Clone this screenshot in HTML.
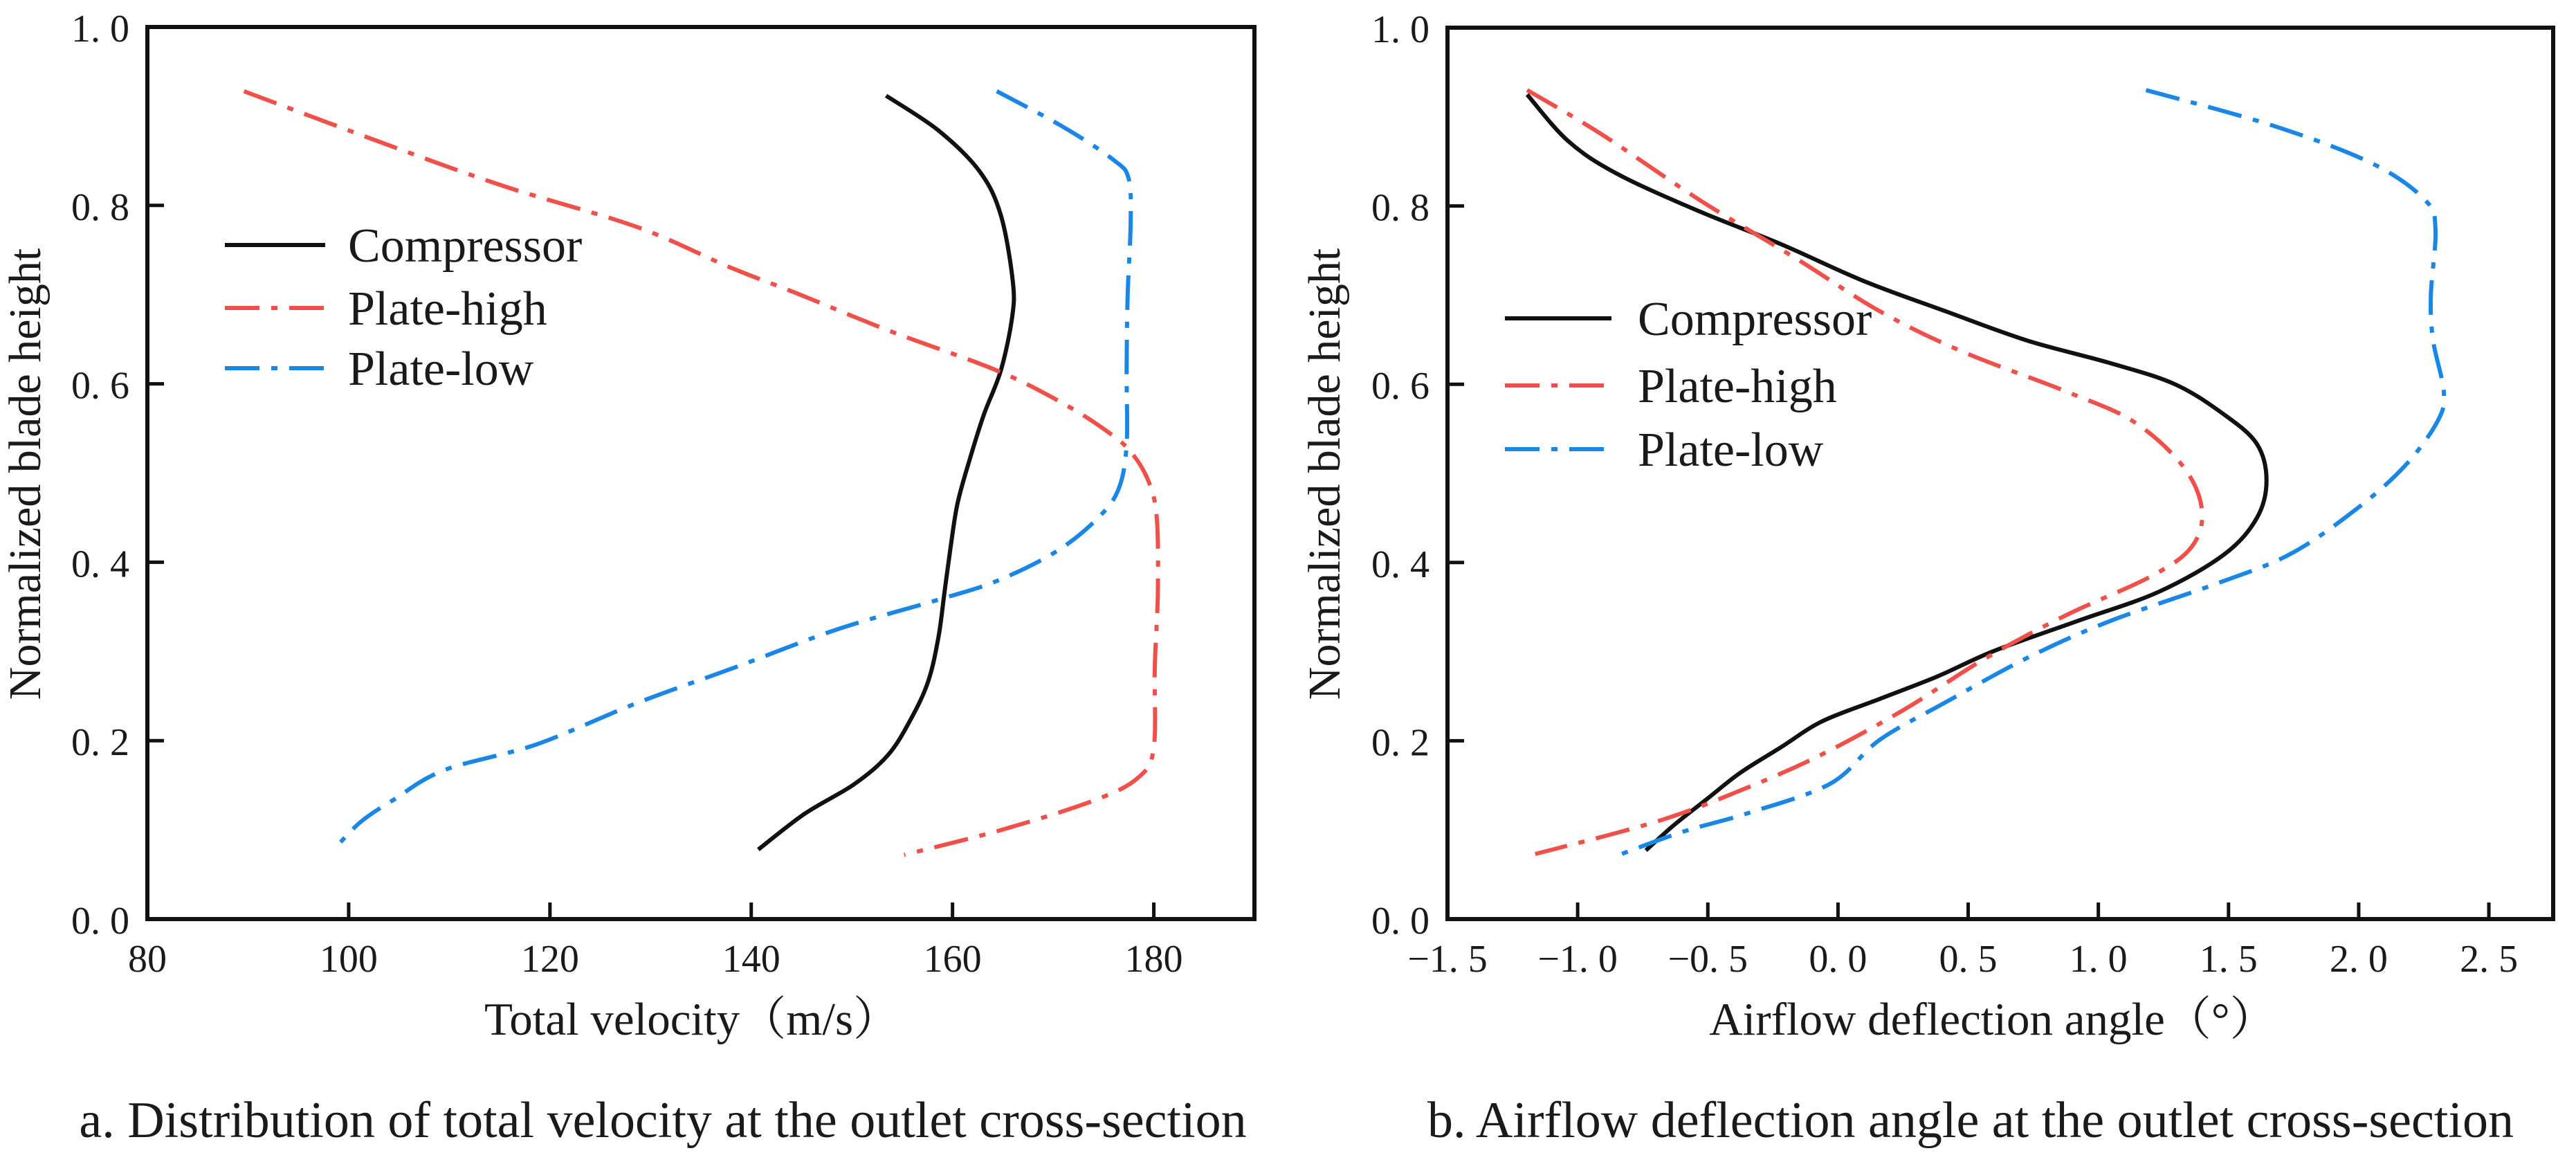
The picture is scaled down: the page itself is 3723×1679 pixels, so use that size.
<!DOCTYPE html>
<html><head><meta charset="utf-8"><style>
html,body{margin:0;padding:0;background:#fff;}
svg{display:block;}
text{font-family:"Liberation Serif","Noto Serif CJK SC",serif;fill:#1a1a1a;}
</style></head><body>
<svg id="fig" width="3723" height="1679" viewBox="0 0 3723 1679" xmlns="http://www.w3.org/2000/svg"></svg>
<script>
// ---- Panel a data (x: total velocity, y: normalized blade height) ----
const aCompX=[153.4,158.6,162.7,164.8,166,165.9,164.8,163.1,161.7,160.5,159.8,159.2,158.6,157.6,155.9,153.6,150.2,145.3,140.7];
const aCompY=[0.923,0.884,0.838,0.789,0.714,0.673,0.615,0.565,0.515,0.466,0.416,0.366,0.316,0.267,0.225,0.184,0.151,0.118,0.078];
const aHighX=[89.6,102.9,115.3,128.6,137.8,144.4,153.6,164.4,171,175.2,177.7,179.5,180.3,180.4,180.1,180,178.5,174.3,165.2,155.2];
const aHighY=[0.928,0.872,0.822,0.776,0.731,0.702,0.66,0.615,0.578,0.548,0.524,0.49,0.449,0.366,0.283,0.192,0.159,0.134,0.101,0.072];
const aLowX=[164.4,171,176,177.5,177.7,177.4,177.3,177.3,176.5,174.4,170.3,164.4,158.6,148.6,138.6,128.6,118.7,109.5,104.5,101.2,98.7];
const aLowY=[0.928,0.888,0.851,0.83,0.78,0.698,0.615,0.532,0.482,0.449,0.412,0.379,0.358,0.325,0.283,0.242,0.196,0.167,0.134,0.109,0.08];
const aXTicks=[80,100,120,140,160,180];
const aXTickLabels=["80","100","120","140","160","180"];
// ---- Panel b data (x: airflow deflection angle) ----
const bCompX=[-1.194,-1.037,-0.848,-0.533,-0.218,0.097,0.412,0.727,1.042,1.294,1.483,1.609,1.646,1.609,1.483,1.231,0.916,0.601,0.38,0.16,-0.06,-0.218,-0.376,-0.502,-0.628,-0.738];
const bCompY=[0.925,0.873,0.836,0.794,0.757,0.716,0.682,0.649,0.624,0.6,0.566,0.533,0.492,0.45,0.409,0.367,0.334,0.301,0.272,0.247,0.222,0.193,0.164,0.135,0.106,0.077];
const bHighX=[-1.194,-0.911,-0.533,-0.155,0.16,0.475,0.884,1.136,1.325,1.398,1.357,1.199,0.884,0.569,0.254,-0.06,-0.344,-0.69,-1.163];
const bHighY=[0.93,0.881,0.807,0.74,0.682,0.637,0.591,0.558,0.508,0.459,0.417,0.384,0.342,0.293,0.235,0.185,0.148,0.11,0.073];
const bLowX=[1.183,1.672,2.05,2.254,2.295,2.277,2.286,2.327,2.302,2.176,1.987,1.734,1.451,1.042,0.727,0.412,0.16,-0.029,-0.344,-0.596,-0.832];
const bLowY=[0.93,0.89,0.848,0.807,0.774,0.699,0.649,0.591,0.558,0.508,0.459,0.409,0.376,0.334,0.293,0.243,0.201,0.152,0.119,0.098,0.073];
const bXTicks=[-1.5,-1.0,-0.5,0.0,0.5,1.0,1.5,2.0,2.5];
const bXTickLabels=["−1. 5","−1. 0","−0. 5","0. 0","0. 5","1. 0","1. 5","2. 0","2. 5"];
const yTicks=[0,0.2,0.4,0.6,0.8,1.0];
const yTickLabels=["0. 0","0. 2","0. 4","0. 6","0. 8","1. 0"];
const seriesNames=["Compressor","Plate-high","Plate-low"];

const NS="http://www.w3.org/2000/svg";
const svg=document.getElementById('fig');
function mk(tag,attrs,parent){const e=document.createElementNS(NS,tag);for(const k in attrs)e.setAttribute(k,attrs[k]);(parent||svg).appendChild(e);return e;}
function smooth(pts){let d="M"+pts[0][0].toFixed(1)+","+pts[0][1].toFixed(1);
 for(let i=0;i<pts.length-1;i++){const p0=pts[Math.max(0,i-1)],p1=pts[i],p2=pts[i+1],p3=pts[Math.min(pts.length-1,i+2)];
  const c1=[p1[0]+(p2[0]-p0[0])/6,p1[1]+(p2[1]-p0[1])/6],c2=[p2[0]-(p3[0]-p1[0])/6,p2[1]-(p3[1]-p1[1])/6];
  d+=" C"+c1[0].toFixed(1)+","+c1[1].toFixed(1)+" "+c2[0].toFixed(1)+","+c2[1].toFixed(1)+" "+p2[0].toFixed(1)+","+p2[1].toFixed(1);}
 return d;}
const styles=[{c:"#111",dash:"none"},{c:"#f0504a",dash:"50 17 9 17"},{c:"#1a86e6",dash:"50 17 9 17"}];

function panel(cfg){
 const g=mk('g',{});
 
 
 const sx=v=>cfg.x0+(v-cfg.xmin)/(cfg.xmax-cfg.xmin)*(cfg.x1-cfg.x0);
 const sy=v=>cfg.y1-(v-0)/(1-0)*(cfg.y1-cfg.y0);
 cfg.series.forEach((s,i)=>{
  const pts=s.x.map((v,j)=>[sx(v),sy(s.y[j])]);
  const p=mk('path',{d:smooth(pts),fill:"none",stroke:styles[i].c,"stroke-width":6,"stroke-dasharray":styles[i].dash,"stroke-linecap":"butt","stroke-linejoin":"round"},g);
  
  
 });
 const f=mk('rect',{x:cfg.x0,y:cfg.y0,width:cfg.x1-cfg.x0,height:cfg.y1-cfg.y0,fill:"none",stroke:"#111","stroke-width":6},g);
 
 
 cfg.xt.forEach((v,i)=>{
  const x=sx(v);
  if(Math.abs(x-cfg.x0)>3){const t=mk('line',{x1:x,x2:x,y1:cfg.y1,y2:cfg.y1-24,stroke:"#111","stroke-width":5},g);
   
   }
  const l=mk('text',{x:x,y:cfg.y1+76,"font-size":56,"text-anchor":"middle"},g);l.textContent=cfg.xl[i];
  
  
 });
 yTicks.forEach((v,i)=>{
  const y=sy(v);
  if(v>0&&v<1){const t=mk('line',{x1:cfg.x0,x2:cfg.x0+24,y1:y,y2:y,stroke:"#111","stroke-width":5},g);
   
   }
  const l=mk('text',{x:cfg.x0-26,y:y+21,"font-size":56,"text-anchor":"end"},g);l.textContent=yTickLabels[i];
  
  
 });
 const yt=mk('text',{x:0,y:0,"font-size":66,"text-anchor":"middle",transform:`translate(${cfg.ytx},685) rotate(-90)`},g);
 yt.textContent="Normalized blade height";
 
 
 const xt=mk('text',{x:cfg.xtx,y:1495,"font-size":67,"text-anchor":"middle"},g);
 xt.textContent=cfg.xtitle;
 
 
 const cap=mk('text',{x:cfg.capx,y:1643,"font-size":74,"text-anchor":"middle"},g);
 cap.textContent=cfg.caption;
 
 
 seriesNames.forEach((n,i)=>{
  const y=cfg.legY[i];
  const ln=mk('line',{x1:cfg.legX0,x2:cfg.legX1,y1:y,y2:y,stroke:styles[i].c,"stroke-width":6,"stroke-dasharray":styles[i].dash},g);
  
  
  const t=mk('text',{x:cfg.legTx,y:y+24,"font-size":70},g);t.textContent=n;
  
  
 });
}
panel({name:"panel-a",prefix:"a",x0:213,x1:1813,y0:39,y1:1328,xmin:80,xmax:190,xt:aXTicks,xl:aXTickLabels,
 series:[{x:aCompX,y:aCompY},{x:aHighX,y:aHighY},{x:aLowX,y:aLowY}],
 ytx:58,xtx:1000,xtitle:"Total velocity（m/s）",capx:958,caption:"a. Distribution of total velocity at the outlet cross-section",
 legX0:325,legX1:470,legTx:503,legY:[354,445,532]});
panel({name:"panel-b",prefix:"b",x0:2092,x1:3690,y0:40,y1:1328,xmin:-1.5,xmax:2.747,xt:bXTicks,xl:bXTickLabels,
 series:[{x:bCompX,y:bCompY},{x:bHighX,y:bHighY},{x:bLowX,y:bLowY}],
 ytx:1936,xtx:2880,xtitle:"Airflow deflection angle（°）",capx:2848,caption:"b. Airflow deflection angle at the outlet cross-section",
 legX0:2175,legX1:2329,legTx:2367,legY:[460,557,649]});
</script>
</body></html>
